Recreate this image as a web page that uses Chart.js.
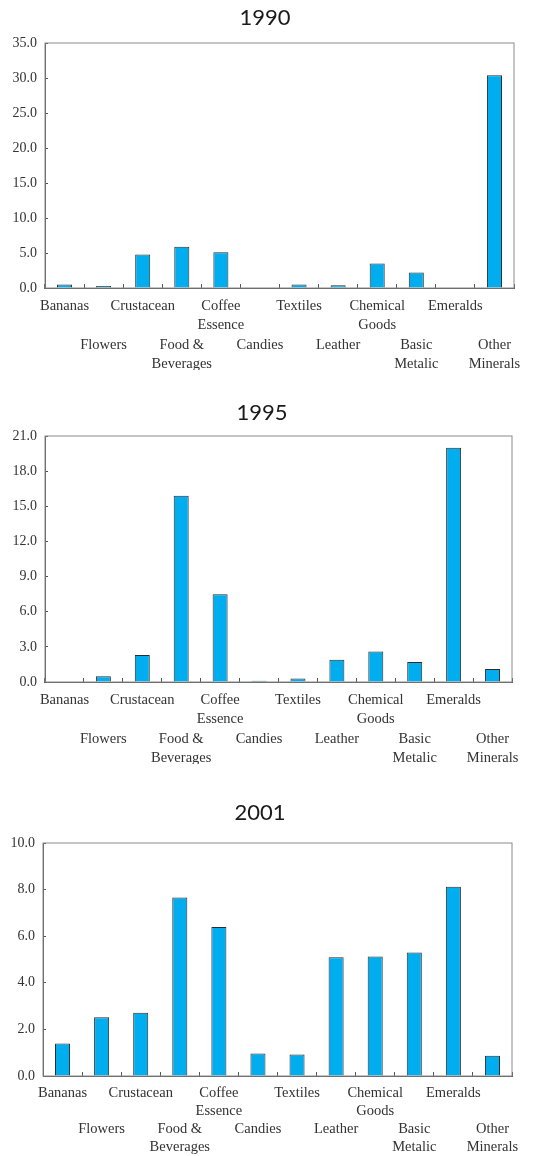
<!DOCTYPE html>
<html>
<head>
<meta charset="utf-8">
<script src="https://cdn.jsdelivr.net/npm/chart.js@4.4.1/dist/chart.umd.min.js"></script>
<style>
  html, body { margin: 0; padding: 0; background: #fff; }
  body { width: 548px; height: 1156px; position: relative; overflow: hidden; }
  .box { position: absolute; left: 0; width: 548px; }
  .title {
    position: absolute; font-family: Lato, "DejaVu Sans", sans-serif; font-size: 22px;
    color: #1a1a1a; transform: translate(-50%, -50%); white-space: nowrap;
  }
</style>
</head>
<body>
<div class="box" style="top:0"><canvas id="chart1990" width="548" height="370"></canvas></div>
<div class="box" style="top:390px"><canvas id="chart1995" width="548" height="374"></canvas></div>
<div class="box" style="top:790px"><canvas id="chart2001" width="548" height="366"></canvas></div>
<div class="title" style="left:265px; top:16px">1990</div>
<div class="title" style="left:262px; top:411px">1995</div>
<div class="title" style="left:260px; top:811px">2001</div>
<script>
// categories (multi-line labels as arrays)
const categories = [
    ['Bananas'], ['Flowers'], ['Crustacean'], ['Food &', 'Beverages'],
    ['Coffee', 'Essence'], ['Candies'], ['Textiles'], ['Leather'],
    ['Chemical', 'Goods'], ['Basic', 'Metalic'], ['Emeralds'], ['Other', 'Minerals']
];

const values1990 = [0.5, 0.3, 4.8, 5.9, 5.1, 0, 0.5, 0.4, 3.5, 2.2, 0, 30.4];
const values1995 = [0, 0.5, 2.3, 15.9, 7.5, 0.1, 0.3, 1.9, 2.6, 1.7, 20.0, 1.1];
const values2001 = [1.40, 2.52, 2.71, 7.66, 6.40, 0.97, 0.92, 5.10, 5.13, 5.30, 8.12, 0.87];

const yMax = [35, 21, 10];
const yStep = [5, 3, 2];

// odd categories go on the second label row
const staggered = categories.map((c, i) => i % 2 ? ['', ''].concat(c) : c);

// draws the box around the plot area
const framePlugin = {
    id: 'frame',
    beforeDatasetsDraw(chart) {
        const { ctx, chartArea: a } = chart;
        ctx.save();
        ctx.strokeStyle = '#8a8a8a';
        ctx.lineWidth = 1;
        ctx.strokeRect(a.left, a.top, a.right - a.left, a.bottom - a.top);
        ctx.restore();
    }
};

function makeChart(id, values, max, step, pad, yWidth, xHeight, lineH) {
    return new Chart(document.getElementById(id), {
        type: 'bar',
        data: {
            labels: staggered,
            datasets: [{
                data: values,
                backgroundColor: '#00aeef',
                borderColor: '#2b2b2b',
                borderWidth: 1,
                borderSkipped: 'start',
                barPercentage: 0.385,
                categoryPercentage: 1
            }]
        },
        options: {
            responsive: false,
            animation: false,
            layout: { padding: pad },
            plugins: { legend: { display: false }, tooltip: { enabled: false } },
            scales: {
                x: {
                    grid: { drawOnChartArea: false, tickLength: -4, color: '#555', offset: true },
                    border: { color: '#555' },
                    ticks: {
                        autoSkip: false, maxRotation: 0, minRotation: 0, padding: 12,
                        color: '#333',
                        font: { family: '"Liberation Serif", "Times New Roman", serif', size: 14.5, lineHeight: lineH }
                    },
                    afterFit: (s) => { s.height = xHeight; }
                },
                y: {
                    min: 0, max: max,
                    grid: { drawOnChartArea: false, tickLength: -3, color: '#555' },
                    border: { color: '#555' },
                    ticks: {
                        stepSize: step, padding: 11, color: '#333',
                        font: { family: '"Liberation Serif", "Times New Roman", serif', size: 14 },
                        callback: (v) => v.toFixed(1)
                    },
                    afterFit: (s) => { s.width = yWidth; }
                }
            }
        },
        plugins: [framePlugin]
    });
}

makeChart('chart1990', values1990, yMax[0], yStep[0], { top: 43, right: 34, left: 0, bottom: 0 }, 45, 82, '19.5px');
makeChart('chart1995', values1995, yMax[1], yStep[1], { top: 46, right: 36, left: 0, bottom: 0 }, 45, 82, '19.5px');
makeChart('chart2001', values2001, yMax[2], yStep[2], { top: 53, right: 36, left: 0, bottom: 0 }, 43, 80, '18px');
</script>
</body>
</html>
